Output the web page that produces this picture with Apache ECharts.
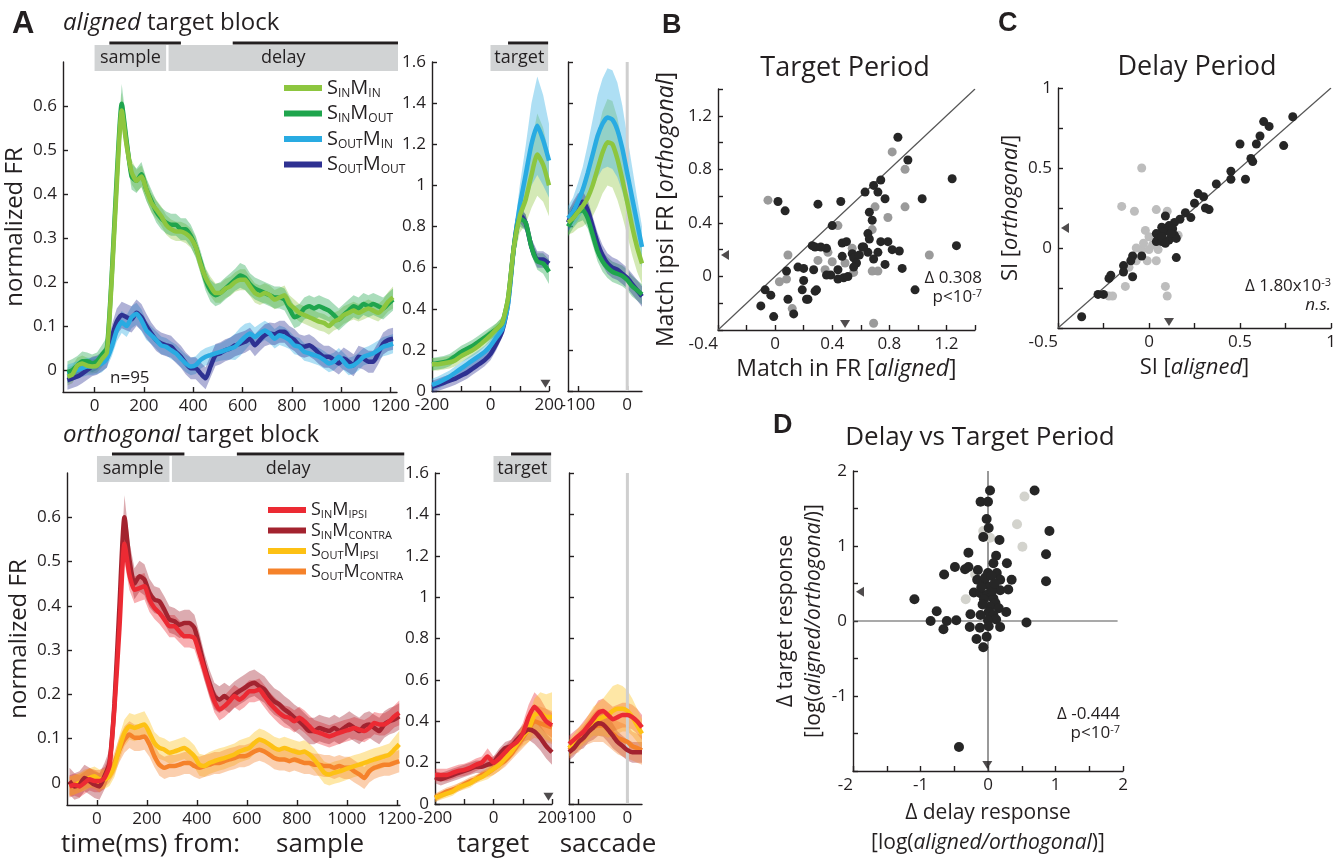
<!DOCTYPE html>
<html>
<head>
<meta charset="utf-8">
<title>Aligned vs orthogonal target blocks</title>
<script src="https://cdn.jsdelivr.net/npm/echarts@6.0.0/dist/echarts.min.js"></script>
<style>
  html, body { margin: 0; background: #fff; }
  #chart { width: 1344px; height: 859px; }
</style>
</head>
<body>
<div id="chart"></div>
<script>
const FONT = '"Open Sans", "Noto Sans", sans-serif';
const BOLD_FONT = '"Liberation Sans", Arial, sans-serif';
const INK = "#231f20";

// ---- time bases (ms) ----
const T_SAMPLE = [-110, -90, -70, -50, -30, -10, 10, 30, 50, 70, 90, 110, 130, 150, 170, 190, 210, 230, 250, 270, 290, 310, 330, 350, 370, 390, 410, 430, 450, 470, 490, 510, 530, 550, 570, 590, 610, 630, 650, 670, 690, 710, 730, 750, 770, 790, 810, 830, 850, 870, 890, 910, 930, 950, 970, 990, 1010, 1030, 1050, 1070, 1090, 1110, 1130, 1150, 1170, 1190, 1210];
const T_TARGET = [-200, -180, -160, -140, -120, -100, -80, -60, -40, -20, 0, 20, 40, 60, 80, 100, 120, 140, 160, 180, 200];
const T_SACC = [-120, -110, -100, -90, -80, -70, -60, -50, -40, -30, -20, -10, 0, 10, 20, 30];

// ---- task epochs drawn above the traces ----
const EPOCH_SAMPLE = [0, 290];
const EPOCH_DELAY = [300, 1230];
const WIN_SAMPLE = [60, 350];
const WIN_DELAY = [560, 1230];
const EPOCH_TARGET = [0, 197];
const WIN_TARGET = [60, 197];
const RT_MARK = [188, 0.035];

// ---- aligned block (normalized FR, mean and CI half-width) ----
const SIN_MIN_SAMPLE = [-0.015, -0.01, 0.01, 0.015, 0.01, 0.008, 0.01, 0.025, 0.04, 0.21, 0.42, 0.59, 0.51, 0.45, 0.43, 0.44, 0.41, 0.38, 0.365, 0.35, 0.33, 0.32, 0.315, 0.315, 0.31, 0.3, 0.28, 0.24, 0.21, 0.19, 0.175, 0.175, 0.185, 0.19, 0.2, 0.205, 0.205, 0.19, 0.175, 0.17, 0.175, 0.17, 0.16, 0.165, 0.17, 0.15, 0.14, 0.13, 0.125, 0.12, 0.115, 0.11, 0.107, 0.1, 0.11, 0.115, 0.125, 0.13, 0.135, 0.13, 0.135, 0.14, 0.135, 0.13, 0.14, 0.155, 0.165];
const SIN_MIN_SAMPLE_CI = [0.02, 0.02, 0.018, 0.018, 0.018, 0.016, 0.016, 0.018, 0.02, 0.03, 0.035, 0.04, 0.03, 0.028, 0.025, 0.025, 0.025, 0.022, 0.022, 0.022, 0.022, 0.022, 0.022, 0.022, 0.022, 0.022, 0.022, 0.022, 0.022, 0.022, 0.022, 0.022, 0.022, 0.022, 0.022, 0.024, 0.024, 0.022, 0.022, 0.022, 0.022, 0.022, 0.022, 0.022, 0.022, 0.02, 0.02, 0.02, 0.02, 0.02, 0.02, 0.02, 0.02, 0.02, 0.02, 0.02, 0.02, 0.02, 0.02, 0.02, 0.02, 0.02, 0.02, 0.02, 0.02, 0.022, 0.025];
const SIN_MOUT_SAMPLE = [-0.005, 0, 0.01, 0.02, 0.02, 0.015, 0.02, 0.035, 0.05, 0.22, 0.44, 0.605, 0.52, 0.44, 0.43, 0.445, 0.41, 0.385, 0.36, 0.345, 0.335, 0.33, 0.33, 0.32, 0.32, 0.305, 0.28, 0.245, 0.205, 0.18, 0.17, 0.175, 0.185, 0.195, 0.205, 0.215, 0.21, 0.195, 0.185, 0.18, 0.175, 0.17, 0.165, 0.165, 0.16, 0.14, 0.12, 0.125, 0.14, 0.145, 0.14, 0.145, 0.14, 0.135, 0.125, 0.115, 0.125, 0.135, 0.145, 0.14, 0.15, 0.145, 0.15, 0.145, 0.14, 0.15, 0.16];
const SIN_MOUT_SAMPLE_CI = [0.025, 0.025, 0.022, 0.022, 0.02, 0.02, 0.02, 0.022, 0.025, 0.03, 0.04, 0.045, 0.035, 0.03, 0.028, 0.028, 0.026, 0.025, 0.025, 0.025, 0.025, 0.025, 0.025, 0.025, 0.025, 0.025, 0.025, 0.025, 0.025, 0.025, 0.025, 0.025, 0.025, 0.025, 0.025, 0.028, 0.028, 0.025, 0.025, 0.025, 0.025, 0.025, 0.025, 0.025, 0.025, 0.025, 0.025, 0.025, 0.025, 0.025, 0.025, 0.025, 0.025, 0.025, 0.025, 0.025, 0.025, 0.025, 0.025, 0.025, 0.025, 0.025, 0.025, 0.025, 0.025, 0.025, 0.025];
const SOUT_MIN_SAMPLE = [-0.008, -0.004, 0, 0.004, 0.008, 0.008, 0.011, 0.015, 0.026, 0.053, 0.09, 0.109, 0.1, 0.12, 0.128, 0.113, 0.09, 0.079, 0.068, 0.056, 0.053, 0.045, 0.038, 0.026, 0.015, 0.008, 0.011, 0.023, 0.03, 0.034, 0.038, 0.041, 0.045, 0.049, 0.053, 0.064, 0.075, 0.083, 0.075, 0.083, 0.09, 0.083, 0.071, 0.079, 0.075, 0.068, 0.056, 0.053, 0.041, 0.038, 0.034, 0.03, 0.023, 0.015, 0.019, 0.03, 0.019, 0.008, 0.011, 0.019, 0.03, 0.034, 0.038, 0.045, 0.053, 0.056, 0.06];
const SOUT_MIN_SAMPLE_CI = [0.02, 0.02, 0.02, 0.02, 0.02, 0.02, 0.02, 0.02, 0.02, 0.022, 0.025, 0.025, 0.025, 0.025, 0.025, 0.025, 0.022, 0.02, 0.02, 0.02, 0.02, 0.02, 0.02, 0.02, 0.02, 0.02, 0.02, 0.02, 0.02, 0.02, 0.02, 0.02, 0.022, 0.025, 0.03, 0.032, 0.03, 0.025, 0.022, 0.022, 0.022, 0.022, 0.022, 0.022, 0.022, 0.02, 0.02, 0.02, 0.02, 0.02, 0.02, 0.02, 0.02, 0.02, 0.02, 0.02, 0.02, 0.02, 0.02, 0.02, 0.02, 0.02, 0.022, 0.022, 0.022, 0.022, 0.022];
const SOUT_MOUT_SAMPLE = [-0.023, -0.019, -0.015, -0.008, 0, 0.008, 0.011, 0.019, 0.03, 0.075, 0.11, 0.125, 0.12, 0.115, 0.13, 0.12, 0.1, 0.083, 0.068, 0.06, 0.056, 0.053, 0.041, 0.03, 0.015, 0.004, 0.004, -0.008, -0.019, 0.008, 0.034, 0.038, 0.045, 0.049, 0.056, 0.06, 0.064, 0.071, 0.056, 0.068, 0.079, 0.083, 0.081, 0.087, 0.087, 0.075, 0.068, 0.056, 0.053, 0.056, 0.049, 0.038, 0.03, 0.03, 0.023, 0.015, 0.026, 0.019, 0.011, 0.03, 0.026, 0.019, 0.019, 0.038, 0.06, 0.068, 0.071];
const SOUT_MOUT_SAMPLE_CI = [0.022, 0.022, 0.022, 0.022, 0.022, 0.022, 0.022, 0.022, 0.025, 0.028, 0.03, 0.03, 0.03, 0.03, 0.03, 0.03, 0.028, 0.025, 0.025, 0.025, 0.025, 0.025, 0.025, 0.025, 0.025, 0.025, 0.025, 0.025, 0.025, 0.025, 0.025, 0.025, 0.025, 0.025, 0.025, 0.025, 0.025, 0.025, 0.025, 0.025, 0.025, 0.025, 0.025, 0.025, 0.025, 0.025, 0.025, 0.025, 0.025, 0.025, 0.025, 0.025, 0.025, 0.025, 0.025, 0.025, 0.025, 0.025, 0.025, 0.025, 0.025, 0.025, 0.025, 0.025, 0.025, 0.025, 0.025];

const SIN_MIN_TARGET = [0.13, 0.13, 0.135, 0.14, 0.15, 0.17, 0.185, 0.2, 0.22, 0.245, 0.27, 0.3, 0.33, 0.45, 0.7, 0.85, 0.93, 1.05, 1.15, 1.1, 1.0];
const SIN_MIN_TARGET_CI = [0.03, 0.03, 0.03, 0.03, 0.03, 0.03, 0.03, 0.03, 0.03, 0.03, 0.03, 0.03, 0.03, 0.04, 0.06, 0.08, 0.12, 0.16, 0.2, 0.18, 0.15];
const SIN_MOUT_TARGET = [0.13, 0.135, 0.14, 0.15, 0.17, 0.19, 0.205, 0.22, 0.24, 0.26, 0.28, 0.3, 0.33, 0.45, 0.7, 0.84, 0.82, 0.7, 0.63, 0.62, 0.58];
const SIN_MOUT_TARGET_CI = [0.03, 0.03, 0.03, 0.03, 0.03, 0.03, 0.03, 0.03, 0.03, 0.03, 0.03, 0.03, 0.03, 0.03, 0.04, 0.04, 0.04, 0.04, 0.04, 0.05, 0.06];
const SOUT_MIN_TARGET = [0.03, 0.04, 0.055, 0.07, 0.09, 0.11, 0.13, 0.15, 0.17, 0.19, 0.22, 0.26, 0.3, 0.42, 0.7, 0.9, 1.05, 1.2, 1.29, 1.22, 1.12];
const SOUT_MIN_TARGET_CI = [0.03, 0.03, 0.03, 0.03, 0.03, 0.03, 0.03, 0.03, 0.03, 0.03, 0.03, 0.03, 0.03, 0.04, 0.06, 0.1, 0.14, 0.2, 0.24, 0.22, 0.18];
const SOUT_MOUT_TARGET = [0.02, 0.03, 0.04, 0.05, 0.06, 0.075, 0.09, 0.11, 0.13, 0.15, 0.18, 0.23, 0.29, 0.43, 0.7, 0.86, 0.82, 0.7, 0.64, 0.64, 0.62];
const SOUT_MOUT_TARGET_CI = [0.03, 0.03, 0.03, 0.03, 0.03, 0.03, 0.03, 0.03, 0.03, 0.03, 0.03, 0.03, 0.03, 0.03, 0.04, 0.04, 0.04, 0.04, 0.04, 0.04, 0.04];

const SIN_MIN_SACC = [0.82, 0.84, 0.87, 0.9, 0.94, 1.0, 1.08, 1.16, 1.21, 1.2, 1.13, 1.03, 0.92, 0.8, 0.7, 0.62];
const SIN_MIN_SACC_CI = [0.06, 0.07, 0.08, 0.1, 0.12, 0.15, 0.18, 0.2, 0.21, 0.21, 0.2, 0.18, 0.16, 0.14, 0.12, 0.1];
const SIN_MOUT_SACC = [0.8, 0.84, 0.87, 0.88, 0.84, 0.76, 0.68, 0.63, 0.6, 0.58, 0.57, 0.56, 0.54, 0.51, 0.49, 0.47];
const SIN_MOUT_SACC_CI = [0.05, 0.05, 0.05, 0.05, 0.05, 0.05, 0.05, 0.05, 0.05, 0.05, 0.05, 0.05, 0.05, 0.05, 0.05, 0.05];
const SOUT_MIN_SACC = [0.84, 0.87, 0.92, 0.98, 1.06, 1.15, 1.24, 1.3, 1.33, 1.32, 1.27, 1.18, 1.06, 0.94, 0.82, 0.7];
const SOUT_MIN_SACC_CI = [0.06, 0.07, 0.09, 0.11, 0.14, 0.17, 0.2, 0.22, 0.24, 0.24, 0.23, 0.21, 0.18, 0.15, 0.12, 0.1];
const SOUT_MOUT_SACC = [0.82, 0.87, 0.91, 0.92, 0.88, 0.8, 0.72, 0.66, 0.62, 0.6, 0.59, 0.57, 0.55, 0.52, 0.49, 0.46];
const SOUT_MOUT_SACC_CI = [0.05, 0.05, 0.05, 0.05, 0.05, 0.05, 0.05, 0.05, 0.05, 0.05, 0.05, 0.05, 0.05, 0.05, 0.05, 0.05];

// ---- orthogonal block ----
const SIN_MIPSI_SAMPLE = [-0.008, -0.004, -0.008, 0, 0.008, 0.004, 0.004, 0.011, 0.038, 0.17, 0.35, 0.54, 0.47, 0.436, 0.44, 0.444, 0.414, 0.395, 0.384, 0.369, 0.354, 0.354, 0.342, 0.331, 0.331, 0.327, 0.293, 0.256, 0.218, 0.184, 0.166, 0.173, 0.184, 0.196, 0.188, 0.196, 0.207, 0.207, 0.211, 0.196, 0.181, 0.169, 0.158, 0.15, 0.147, 0.139, 0.147, 0.139, 0.128, 0.117, 0.113, 0.109, 0.105, 0.109, 0.113, 0.117, 0.12, 0.124, 0.12, 0.117, 0.124, 0.135, 0.132, 0.132, 0.139, 0.15, 0.158];
const SIN_MIPSI_SAMPLE_CI = [0.025, 0.025, 0.025, 0.025, 0.025, 0.025, 0.025, 0.025, 0.025, 0.03, 0.035, 0.04, 0.035, 0.03, 0.03, 0.03, 0.028, 0.025, 0.025, 0.025, 0.025, 0.025, 0.025, 0.025, 0.025, 0.025, 0.025, 0.025, 0.025, 0.025, 0.025, 0.025, 0.025, 0.025, 0.025, 0.025, 0.025, 0.025, 0.025, 0.025, 0.025, 0.025, 0.025, 0.025, 0.025, 0.025, 0.025, 0.025, 0.025, 0.025, 0.025, 0.025, 0.025, 0.025, 0.025, 0.025, 0.025, 0.025, 0.025, 0.025, 0.025, 0.025, 0.025, 0.025, 0.025, 0.025, 0.028];
const SIN_MCONTRA_SAMPLE = [0.004, -0.008, -0.004, 0.011, 0.004, -0.004, -0.008, 0.015, 0.045, 0.18, 0.4, 0.6, 0.504, 0.45, 0.467, 0.459, 0.429, 0.414, 0.41, 0.391, 0.369, 0.365, 0.357, 0.361, 0.361, 0.35, 0.309, 0.263, 0.226, 0.196, 0.188, 0.196, 0.188, 0.199, 0.207, 0.214, 0.222, 0.226, 0.218, 0.211, 0.196, 0.184, 0.177, 0.166, 0.158, 0.147, 0.139, 0.128, 0.117, 0.117, 0.124, 0.12, 0.117, 0.124, 0.117, 0.124, 0.132, 0.124, 0.117, 0.128, 0.132, 0.124, 0.117, 0.132, 0.139, 0.143, 0.15];
const SIN_MCONTRA_SAMPLE_CI = [0.03, 0.03, 0.03, 0.03, 0.03, 0.03, 0.03, 0.03, 0.03, 0.035, 0.04, 0.05, 0.04, 0.035, 0.035, 0.035, 0.032, 0.03, 0.03, 0.03, 0.03, 0.03, 0.03, 0.03, 0.03, 0.03, 0.03, 0.03, 0.03, 0.03, 0.03, 0.03, 0.03, 0.03, 0.03, 0.03, 0.03, 0.03, 0.03, 0.03, 0.03, 0.03, 0.03, 0.03, 0.03, 0.03, 0.03, 0.03, 0.03, 0.03, 0.03, 0.03, 0.03, 0.03, 0.03, 0.03, 0.03, 0.03, 0.03, 0.03, 0.03, 0.03, 0.03, 0.03, 0.03, 0.03, 0.03];
const SOUT_MIPSI_SAMPLE = [-0.008, -0.004, 0, 0.004, 0.011, 0.015, 0.008, 0.008, 0.015, 0.038, 0.079, 0.113, 0.128, 0.124, 0.128, 0.132, 0.113, 0.09, 0.079, 0.075, 0.068, 0.071, 0.075, 0.079, 0.071, 0.06, 0.041, 0.038, 0.045, 0.049, 0.053, 0.056, 0.06, 0.064, 0.071, 0.075, 0.079, 0.09, 0.098, 0.094, 0.087, 0.079, 0.075, 0.079, 0.075, 0.071, 0.068, 0.071, 0.064, 0.053, 0.038, 0.023, 0.019, 0.023, 0.026, 0.03, 0.034, 0.038, 0.041, 0.045, 0.049, 0.053, 0.056, 0.06, 0.064, 0.075, 0.087];
const SOUT_MIPSI_SAMPLE_CI = [0.022, 0.022, 0.022, 0.022, 0.022, 0.022, 0.022, 0.022, 0.022, 0.025, 0.028, 0.03, 0.03, 0.03, 0.03, 0.03, 0.028, 0.025, 0.025, 0.025, 0.025, 0.025, 0.025, 0.025, 0.025, 0.025, 0.025, 0.025, 0.025, 0.025, 0.025, 0.025, 0.025, 0.025, 0.025, 0.025, 0.025, 0.025, 0.025, 0.025, 0.025, 0.025, 0.025, 0.025, 0.025, 0.025, 0.025, 0.025, 0.025, 0.025, 0.025, 0.025, 0.025, 0.025, 0.025, 0.025, 0.025, 0.025, 0.025, 0.025, 0.025, 0.025, 0.025, 0.025, 0.025, 0.028, 0.03];
const SOUT_MCONTRA_SAMPLE = [-0.008, -0.004, 0, 0.008, 0.011, 0.008, 0, 0.011, 0.023, 0.045, 0.075, 0.098, 0.109, 0.102, 0.102, 0.105, 0.087, 0.06, 0.041, 0.034, 0.038, 0.038, 0.041, 0.045, 0.045, 0.038, 0.034, 0.038, 0.041, 0.045, 0.045, 0.049, 0.053, 0.056, 0.06, 0.06, 0.064, 0.071, 0.075, 0.071, 0.064, 0.056, 0.053, 0.053, 0.049, 0.053, 0.049, 0.045, 0.045, 0.041, 0.041, 0.038, 0.038, 0.034, 0.038, 0.034, 0.034, 0.026, 0.019, 0.011, 0.026, 0.034, 0.038, 0.041, 0.041, 0.045, 0.049];
const SOUT_MCONTRA_SAMPLE_CI = [0.022, 0.022, 0.022, 0.022, 0.022, 0.022, 0.022, 0.022, 0.022, 0.025, 0.028, 0.03, 0.03, 0.03, 0.03, 0.03, 0.028, 0.025, 0.025, 0.025, 0.025, 0.025, 0.025, 0.025, 0.025, 0.025, 0.025, 0.025, 0.025, 0.025, 0.025, 0.025, 0.025, 0.025, 0.025, 0.025, 0.025, 0.025, 0.025, 0.025, 0.025, 0.025, 0.025, 0.025, 0.025, 0.025, 0.025, 0.025, 0.025, 0.025, 0.025, 0.025, 0.025, 0.025, 0.025, 0.025, 0.025, 0.025, 0.025, 0.025, 0.025, 0.025, 0.025, 0.025, 0.025, 0.025, 0.025];

const SIN_MIPSI_TARGET = [0.14, 0.14, 0.14, 0.15, 0.16, 0.165, 0.175, 0.19, 0.2, 0.23, 0.2, 0.22, 0.25, 0.28, 0.3, 0.34, 0.42, 0.47, 0.44, 0.4, 0.38];
const SIN_MIPSI_TARGET_CI = [0.03, 0.03, 0.03, 0.03, 0.03, 0.03, 0.03, 0.03, 0.03, 0.04, 0.03, 0.03, 0.03, 0.03, 0.04, 0.05, 0.06, 0.07, 0.07, 0.06, 0.06];
const SIN_MCONTRA_TARGET = [0.13, 0.12, 0.13, 0.14, 0.15, 0.16, 0.17, 0.18, 0.18, 0.19, 0.2, 0.24, 0.27, 0.28, 0.31, 0.34, 0.36, 0.35, 0.32, 0.28, 0.25];
const SIN_MCONTRA_TARGET_CI = [0.03, 0.03, 0.03, 0.03, 0.03, 0.03, 0.03, 0.03, 0.03, 0.03, 0.03, 0.03, 0.03, 0.03, 0.04, 0.04, 0.05, 0.06, 0.06, 0.06, 0.06];
const SOUT_MIPSI_TARGET = [0.03, 0.04, 0.05, 0.06, 0.08, 0.09, 0.1, 0.12, 0.13, 0.15, 0.17, 0.19, 0.22, 0.25, 0.29, 0.33, 0.36, 0.43, 0.44, 0.42, 0.42];
const SOUT_MIPSI_TARGET_CI = [0.02, 0.02, 0.02, 0.02, 0.02, 0.02, 0.02, 0.02, 0.02, 0.03, 0.03, 0.03, 0.03, 0.03, 0.04, 0.05, 0.06, 0.08, 0.1, 0.11, 0.12];
const SOUT_MCONTRA_TARGET = [0.03, 0.045, 0.06, 0.07, 0.08, 0.095, 0.11, 0.12, 0.14, 0.15, 0.17, 0.19, 0.21, 0.24, 0.28, 0.32, 0.36, 0.4, 0.39, 0.38, 0.37];
const SOUT_MCONTRA_TARGET_CI = [0.02, 0.02, 0.02, 0.02, 0.02, 0.02, 0.02, 0.02, 0.02, 0.02, 0.03, 0.03, 0.03, 0.03, 0.04, 0.05, 0.06, 0.08, 0.08, 0.08, 0.08];

const SIN_MIPSI_SACC = [0.29, 0.31, 0.33, 0.35, 0.38, 0.41, 0.44, 0.45, 0.43, 0.41, 0.42, 0.43, 0.43, 0.42, 0.4, 0.37];
const SIN_MIPSI_SACC_CI = [0.04, 0.04, 0.04, 0.05, 0.05, 0.05, 0.06, 0.06, 0.06, 0.06, 0.06, 0.06, 0.06, 0.06, 0.06, 0.06];
const SIN_MCONTRA_SACC = [0.25, 0.27, 0.3, 0.32, 0.35, 0.37, 0.39, 0.385, 0.36, 0.33, 0.3, 0.28, 0.26, 0.25, 0.25, 0.25];
const SIN_MCONTRA_SACC_CI = [0.04, 0.04, 0.04, 0.05, 0.05, 0.06, 0.06, 0.06, 0.06, 0.06, 0.05, 0.05, 0.05, 0.05, 0.05, 0.05];
const SOUT_MIPSI_SACC = [0.27, 0.3, 0.32, 0.34, 0.37, 0.4, 0.41, 0.42, 0.43, 0.45, 0.46, 0.46, 0.45, 0.42, 0.38, 0.34];
const SOUT_MIPSI_SACC_CI = [0.04, 0.04, 0.05, 0.05, 0.06, 0.07, 0.08, 0.09, 0.11, 0.12, 0.12, 0.11, 0.1, 0.09, 0.08, 0.07];
const SOUT_MCONTRA_SACC = [0.26, 0.28, 0.3, 0.33, 0.35, 0.37, 0.38, 0.38, 0.36, 0.34, 0.32, 0.31, 0.3, 0.28, 0.27, 0.26];
const SOUT_MCONTRA_SACC_CI = [0.04, 0.04, 0.05, 0.05, 0.06, 0.07, 0.08, 0.08, 0.08, 0.08, 0.08, 0.08, 0.08, 0.07, 0.07, 0.07];

// ---- B: target period, match-in FR aligned vs match-ipsi FR orthogonal ----
const B_BLACK = [[0.86, 1.04], [0.93, 0.87], [1.24, 0.73], [1.03, 0.58], [1.27, 0.23], [0.74, 0.72], [0.69, 0.68], [0.63, 0.63], [0.72, 0.63], [0.77, 0.58], [0.66, 0.48], [0.68, 0.42], [0.65, 0.32], [0.66, 0.28], [0.74, 0.26], [0.79, 0.26], [0.61, 0.22], [0.65, 0.18], [0.72, 0.18], [0.82, 0.2], [0.87, 0.19], [0.69, 0.13], [0.77, 0.09], [0.89, 0.06], [0.98, -0.1], [0.02, 0.56], [0.07, 0.49], [0.3, 0.54], [0.46, 0.56], [0.4, 0.38], [0.26, 0.23], [0.28, 0.22], [0.36, 0.21], [0.47, 0.25], [0.5, 0.26], [0.47, 0.15], [0.54, 0.17], [0.55, 0.14], [0.57, 0.1], [0.55, 0.07], [0.44, 0.05], [0.39, 0.01], [0.44, -0.02], [0.48, -0.01], [0.51, 0], [0.27, 0.05], [0.16, 0.07], [0.2, 0.06], [0.08, 0.04], [0.2, -0.03], [0.19, -0.1], [0.29, -0.1], [0.28, -0.11], [0.23, -0.17], [0.22, -0.17], [0.09, -0.17], [-0.07, -0.1], [-0.03, -0.14], [-0.1, -0.22], [-0.01, -0.3], [0.13, -0.28], [0.36, 0.01], [0.32, 0.22], [0.59, 0.16], [0.62, 0.22]];
const B_GRAY = [[0.82, 0.93], [0.91, 0.8], [0.91, 0.52], [1.08, 0.16], [0.7, 0.52], [0.79, 0.44], [0.68, 0.35], [-0.05, 0.57], [0.09, 0.16], [0.44, 0.38], [0.3, 0.12], [0.37, 0.18], [0.4, 0.11], [0.35, 0.05], [0.54, 0.21], [0.49, 0.1], [0.55, 0.03], [0.68, 0.04], [0.72, 0.04], [0.03, -0.04], [0.08, -0.02], [0.12, -0.24], [0.69, -0.35]];
const B_MEDIAN_X = 0.49;
const B_MEDIAN_Y = 0.16;

// ---- C: delay period selectivity index ----
const C_BLACK = [[0.79, 0.82], [0.63, 0.79], [0.66, 0.76], [0.61, 0.7], [0.59, 0.65], [0.5, 0.65], [0.74, 0.64], [0.56, 0.56], [0.57, 0.54], [0.45, 0.48], [0.45, 0.43], [0.53, 0.43], [0.37, 0.4], [0.27, 0.34], [0.3, 0.32], [0.25, 0.28], [0.31, 0.25], [0.33, 0.24], [0.2, 0.22], [0.23, 0.19], [0.17, 0.18], [0.14, 0.16], [0.09, 0.2], [0.11, 0.14], [0.07, 0.13], [0.1, 0.11], [0.13, 0.12], [0.08, 0.1], [0.04, 0.09], [0.14, 0.08], [0.05, 0.06], [0.04, 0.04], [0.07, 0.04], [0.11, 0.05], [0.15, 0.06], [0.15, -0.06], [-0.04, -0.05], [-0.09, -0.05], [-0.1, -0.08], [-0.14, -0.11], [-0.14, -0.15], [-0.09, -0.18], [-0.21, -0.17], [-0.22, -0.19], [-0.25, -0.29], [-0.28, -0.29], [-0.37, -0.43], [0.07, 0.07], [0.12, 0.09], [0.09, 0.03]];
const C_GRAY = [[-0.04, 0.5], [-0.15, 0.26], [-0.08, 0.23], [0.04, 0.24], [0.1, 0.23], [-0.02, 0.11], [0, 0.07], [0.16, 0.08], [-0.07, 0], [-0.04, -0.01], [0, -0.01], [0.05, -0.01], [-0.07, -0.08], [-0.01, -0.08], [0.04, -0.08], [-0.11, -0.12], [-0.13, -0.24], [0.09, -0.24], [0.1, -0.3], [-0.2, -0.3], [-0.22, -0.3], [-0.03, 0.03], [0.02, 0.02]];
const C_MEDIAN_X = 0.11;
const C_MEDIAN_Y = 0.125;

// ---- D: delta delay vs delta target response ----
const D_BLACK = [[0.03, 1.74], [0.69, 1.74], [-0.11, 1.59], [0, 1.59], [-0.02, 1.36], [0.01, 1.24], [-0.07, 1.12], [0.91, 1.2], [0.17, 1.08], [-0.29, 0.91], [0.12, 0.87], [0.86, 0.89], [0.28, 0.77], [-0.49, 0.72], [-0.34, 0.69], [-0.29, 0.72], [0.08, 0.77], [-0.65, 0.62], [-0.15, 0.68], [0, 0.64], [0.13, 0.64], [0.18, 0.55], [0.35, 0.55], [0.86, 0.53], [-0.16, 0.55], [-0.06, 0.52], [0.03, 0.46], [0.18, 0.41], [0.3, 0.42], [-0.21, 0.38], [-0.11, 0.37], [-0.01, 0.35], [0.08, 0.3], [-0.06, 0.29], [-1.09, 0.29], [0.11, 0.24], [0.03, 0.19], [0.16, 0.17], [0.01, 0.12], [0.27, 0.12], [-0.76, 0.13], [-0.26, 0.09], [-0.11, 0.08], [0.08, 0.08], [-0.85, 0], [-0.61, 0], [-0.47, 0.01], [0.12, 0.02], [0, 0.01], [0.57, -0.02], [-0.66, -0.11], [-0.27, -0.08], [-0.12, -0.09], [0.01, -0.07], [0.18, -0.08], [-0.17, -0.24], [-0.02, -0.21], [-0.07, -0.35], [-0.43, -1.68], [-0.1, 0.45], [-0.04, 0.58], [0.06, 0.4], [-0.08, 0.22], [0.05, 0.6], [0.1, 0.5]];
const D_GRAY = [[0.54, 1.66], [0.43, 1.29], [-0.07, 1.2], [0.03, 1.11], [0.51, 0.99], [-0.33, 0.29], [-0.19, 0.62]];
const D_MEDIAN_X = -0.01;
const D_MEDIAN_Y = 0.39;

// ---- tick values ----
const TICKS_SAMPLE_X = [0, 200, 400, 600, 800, 1000, 1200];
const TICKS_FR_Y = [0, 0.1, 0.2, 0.3, 0.4, 0.5, 0.6];
const TICKS_TARGET_X = [-200, -100, 0, 100, 200];
const LABELS_TARGET_X = [-200, 0, 200];
const TICKS_SACC_X = [-100, 0];
const TICKS_FR_Y2 = [0, 0.2, 0.4, 0.6, 0.8, 1, 1.2, 1.4, 1.6];
const TICKS_B = [-0.4, -0.2, 0, 0.2, 0.4, 0.6, 0.8, 1, 1.2, 1.4];
const LABELS_B_X = [-0.4, 0, 0.4, 0.8, 1.2];
const LABELS_B_Y = [0, 0.4, 0.8, 1.2];
const TICKS_C = [-0.5, -0.25, 0, 0.25, 0.5, 0.75, 1];
const LABELS_C_X = [-0.5, 0, 0.5, 1];
const LABELS_C_Y = [0, 0.5, 1];
const TICKS_D = [-2, -1.5, -1, -0.5, 0, 0.5, 1, 1.5, 2];
const LABELS_D_X = [-2, -1, 0, 1, 2];
const LABELS_D_Y = [-1, 0, 1, 2];

const NAMES_ALIGNED = ["S_IN M_IN", "S_IN M_OUT", "S_OUT M_IN", "S_OUT M_OUT"];
const NAMES_ORTHO = ["S_IN M_IPSI", "S_IN M_CONTRA", "S_OUT M_IPSI", "S_OUT M_CONTRA"];

const COLORS = {
  "S_IN M_IN": "#8dc63f",
  "S_IN M_OUT": "#1fa54d",
  "S_OUT M_IN": "#29abe2",
  "S_OUT M_OUT": "#2e3192",
  "S_IN M_IPSI": "#ec2a33",
  "S_IN M_CONTRA": "#a3232f",
  "S_OUT M_IPSI": "#fdc114",
  "S_OUT M_CONTRA": "#f5822a",
};

const GRIDS = [
  { left: 63, top: 62, width: 334, height: 330 },
  { left: 432, top: 62, width: 117, height: 329 },
  { left: 568, top: 62, width: 74, height: 329 },
  { left: 67, top: 473, width: 333, height: 332 },
  { left: 435, top: 473, width: 117, height: 331 },
  { left: 569, top: 473, width: 73, height: 331 },
  { left: 718, top: 89, width: 257, height: 241 },
  { left: 1058, top: 88, width: 273, height: 240 },
  { left: 853, top: 471, width: 270, height: 301 },
];

function pairs(times, vals) {
  return times.map((t, i) => [t, vals[i]]);
}

function valueAxis(gridIndex, min, max, ticks, labels, more) {
  const ax = {
    type: "value",
    gridIndex: gridIndex,
    min: min,
    max: max,
    axisLine: { show: true, onZero: false, lineStyle: { color: INK, width: 1.4 } },
    axisTick: { show: true, inside: true, length: 5, customValues: ticks, lineStyle: { color: INK, width: 1.4 } },
    axisLabel: {
      show: !!labels,
      customValues: labels || [],
      formatter: (v) => String(v),
      color: INK,
      fontFamily: FONT,
      fontSize: 17,
      margin: 6,
    },
    splitLine: { show: false },
  };
  if (more && more.label) Object.assign(ax.axisLabel, more.label);
  if (more && more.name) {
    const size = more.size || 21;
    const lh = more.lineHeight || size + 4;
    Object.assign(ax, {
      name: more.name,
      nameLocation: "middle",
      nameGap: more.gap,
      nameTextStyle: {
        color: INK,
        fontFamily: FONT,
        fontSize: size,
        lineHeight: lh,
        rich: {
          i: { fontStyle: "italic", fontFamily: FONT, fontSize: size, lineHeight: lh, color: INK },
        },
      },
    });
  }
  return ax;
}

function band(gi, times, vals, ci, color) {
  return {
    type: "custom",
    xAxisIndex: gi,
    yAxisIndex: gi,
    silent: true,
    z: 1,
    data: pairs(times, vals),
    renderItem: (params, api) => {
      if (params.dataIndex !== 0) {
        return null;
      }
      const upper = times.map((t, i) => api.coord([t, vals[i] + ci[i]]));
      const lower = times.map((t, i) => api.coord([t, vals[i] - ci[i]])).reverse();
      return {
        type: "polygon",
        shape: { points: upper.concat(lower) },
        style: { fill: color, opacity: 0.38 },
      };
    },
  };
}

function trace(gi, name, times, vals) {
  return {
    type: "line",
    name: name,
    xAxisIndex: gi,
    yAxisIndex: gi,
    data: pairs(times, vals),
    showSymbol: false,
    smooth: 0.2,
    color: COLORS[name],
    lineStyle: { width: 4.5, color: COLORS[name] },
    z: 3,
  };
}

function header(gi, epochs, labels, windows) {
  return {
    type: "custom",
    xAxisIndex: gi,
    yAxisIndex: gi,
    silent: true,
    clip: false,
    z: 10,
    data: epochs,
    renderItem: (params, api) => {
      const top = params.coordSys.y;
      const x0 = api.coord([api.value(0), 0])[0];
      const x1 = api.coord([api.value(1), 0])[0];
      const children = [
        { type: "rect", shape: { x: x0, y: top - 17, width: x1 - x0, height: 26 }, style: { fill: "#d1d3d4" } },
        {
          type: "text",
          style: {
            text: labels[params.dataIndex],
            x: (x0 + x1) / 2,
            y: top - 4,
            align: "center",
            verticalAlign: "middle",
            fontFamily: FONT,
            fontSize: 18,
            fill: INK,
          },
        },
      ];
      const w = windows[params.dataIndex];
      if (w) {
        const w0 = api.coord([w[0], 0])[0];
        const w1 = api.coord([w[1], 0])[0];
        children.push({
          type: "line",
          shape: { x1: w0, y1: top - 19, x2: w1, y2: top - 19 },
          style: { stroke: INK, lineWidth: 3 },
        });
      }
      return { type: "group", children: children };
    },
  };
}

function dots(gi, data, color, size) {
  return {
    type: "scatter",
    xAxisIndex: gi,
    yAxisIndex: gi,
    data: data,
    symbolSize: size,
    itemStyle: { color: color, opacity: 1 },
    silent: true,
    z: 3,
  };
}

function marker(gi, pt, rotate, offset) {
  return {
    type: "scatter",
    xAxisIndex: gi,
    yAxisIndex: gi,
    data: [pt],
    symbol: "triangle",
    symbolSize: [10, 8],
    symbolRotate: rotate,
    symbolOffset: offset,
    itemStyle: { color: INK },
    silent: true,
    z: 6,
  };
}

function guide(gi, data, color, width, z) {
  return {
    type: "line",
    xAxisIndex: gi,
    yAxisIndex: gi,
    data: data,
    showSymbol: false,
    silent: true,
    lineStyle: { color: color, width: width },
    z: z,
  };
}

function text(str, x, y, size, align, more) {
  return {
    type: "text",
    x: x,
    y: y,
    silent: true,
    style: Object.assign(
      {
        text: str,
        fontFamily: FONT,
        fontSize: size,
        fill: INK,
        align: align || "left",
        verticalAlign: "middle",
      },
      more || {},
    ),
  };
}

const ITALIC = { i: { fontStyle: "italic", fontFamily: FONT, fontSize: 24, fill: INK } };
const SUP = {
  n: { fontFamily: FONT, fontSize: 17, lineHeight: 19, fill: INK },
  sup: { fontFamily: FONT, fontSize: 11, lineHeight: 10, verticalAlign: "top", fill: INK },
  ni: { fontFamily: FONT, fontSize: 17, lineHeight: 19, fontStyle: "italic", fill: INK },
};

// ---- series ----
const series = [];

const aligned = [
  ["S_IN M_IN", SIN_MIN_SAMPLE, SIN_MIN_SAMPLE_CI, SIN_MIN_TARGET, SIN_MIN_TARGET_CI, SIN_MIN_SACC, SIN_MIN_SACC_CI],
  ["S_IN M_OUT", SIN_MOUT_SAMPLE, SIN_MOUT_SAMPLE_CI, SIN_MOUT_TARGET, SIN_MOUT_TARGET_CI, SIN_MOUT_SACC, SIN_MOUT_SACC_CI],
  ["S_OUT M_IN", SOUT_MIN_SAMPLE, SOUT_MIN_SAMPLE_CI, SOUT_MIN_TARGET, SOUT_MIN_TARGET_CI, SOUT_MIN_SACC, SOUT_MIN_SACC_CI],
  ["S_OUT M_OUT", SOUT_MOUT_SAMPLE, SOUT_MOUT_SAMPLE_CI, SOUT_MOUT_TARGET, SOUT_MOUT_TARGET_CI, SOUT_MOUT_SACC, SOUT_MOUT_SACC_CI],
];
const ortho = [
  ["S_IN M_IPSI", SIN_MIPSI_SAMPLE, SIN_MIPSI_SAMPLE_CI, SIN_MIPSI_TARGET, SIN_MIPSI_TARGET_CI, SIN_MIPSI_SACC, SIN_MIPSI_SACC_CI],
  ["S_IN M_CONTRA", SIN_MCONTRA_SAMPLE, SIN_MCONTRA_SAMPLE_CI, SIN_MCONTRA_TARGET, SIN_MCONTRA_TARGET_CI, SIN_MCONTRA_SACC, SIN_MCONTRA_SACC_CI],
  ["S_OUT M_IPSI", SOUT_MIPSI_SAMPLE, SOUT_MIPSI_SAMPLE_CI, SOUT_MIPSI_TARGET, SOUT_MIPSI_TARGET_CI, SOUT_MIPSI_SACC, SOUT_MIPSI_SACC_CI],
  ["S_OUT M_CONTRA", SOUT_MCONTRA_SAMPLE, SOUT_MCONTRA_SAMPLE_CI, SOUT_MCONTRA_TARGET, SOUT_MCONTRA_TARGET_CI, SOUT_MCONTRA_SACC, SOUT_MCONTRA_SACC_CI],
];

function addBlock(rows, g0, drawOrder) {
  rows.forEach((r) => {
    const c = COLORS[r[0]];
    series.push(band(g0, T_SAMPLE, r[1], r[2], c));
    series.push(band(g0 + 1, T_TARGET, r[3], r[4], c));
    series.push(band(g0 + 2, T_SACC, r[5], r[6], c));
  });
  series.push(guide(g0 + 2, [[0, 0], [0, 1.6]], "#cfcfcf", 3, 2));
  drawOrder.forEach((k) => {
    const r = rows[k];
    series.push(trace(g0, r[0], T_SAMPLE, r[1]));
    series.push(trace(g0 + 1, r[0], T_TARGET, r[3]));
    series.push(trace(g0 + 2, r[0], T_SACC, r[5]));
  });
  series.push(header(g0, [EPOCH_SAMPLE, EPOCH_DELAY], ["sample", "delay"], [WIN_SAMPLE, WIN_DELAY]));
  series.push(header(g0 + 1, [EPOCH_TARGET], ["target"], [WIN_TARGET]));
  series.push(marker(g0 + 1, RT_MARK, 180, [0, 0]));
}

addBlock(aligned, 0, [3, 2, 1, 0]);
addBlock(ortho, 3, [3, 2, 1, 0]);

// B
series.push(guide(6, [[-0.4, -0.4], [1.4, 1.4]], "#555", 1.2, 2));
series.push(dots(6, B_GRAY, "#9a9a9a", 9));
series.push(dots(6, B_BLACK, "#262626", 9));
series.push(marker(6, [-0.4, B_MEDIAN_Y], 90, [7, 0]));
series.push(marker(6, [B_MEDIAN_X, -0.4], 180, [0, -6]));
// C
series.push(guide(7, [[-0.5, -0.5], [1, 1]], "#555", 1.2, 2));
series.push(dots(7, C_GRAY, "#bdbdbd", 9));
series.push(dots(7, C_BLACK, "#262626", 9));
series.push(marker(7, [-0.5, C_MEDIAN_Y], 90, [7, 0]));
series.push(marker(7, [C_MEDIAN_X, -0.5], 180, [0, -6]));
// D
series.push(guide(8, [[-2, 0], [1.92, 0]], "#555", 1.2, 2));
series.push(guide(8, [[0, 2], [0, -2]], "#555", 1.2, 2));
series.push(dots(8, D_GRAY, "#d3d3cd", 10));
series.push(dots(8, D_BLACK, "#262626", 10));
series.push(marker(8, [-2, D_MEDIAN_Y], 90, [7, 0]));
series.push(marker(8, [D_MEDIAN_X, -2], 180, [0, -6]));

// ---- axes ----
const xAxis = [
  valueAxis(0, -128, 1226, TICKS_SAMPLE_X, TICKS_SAMPLE_X),
  valueAxis(1, -200, 200, TICKS_TARGET_X, LABELS_TARGET_X),
  valueAxis(2, -120, 30, TICKS_SACC_X, TICKS_SACC_X),
  valueAxis(3, -120, 1213, TICKS_SAMPLE_X, TICKS_SAMPLE_X),
  valueAxis(4, -200, 200, TICKS_TARGET_X, LABELS_TARGET_X),
  valueAxis(5, -120, 30, TICKS_SACC_X, TICKS_SACC_X),
  valueAxis(6, -0.4, 1.4, TICKS_B, LABELS_B_X, {
    label: { alignMinLabel: "right" },
    name: "Match in FR [{i|aligned}]",
    gap: 26,
    size: 23,
  }),
  valueAxis(7, -0.5, 1, TICKS_C, LABELS_C_X, {
    label: { alignMinLabel: "right" },
    name: "SI [{i|aligned}]",
    gap: 27,
    size: 22,
  }),
  valueAxis(8, -2, 2, TICKS_D, LABELS_D_X, {
    label: { alignMinLabel: "right" },
    name: "\u0394 delay response\n[log({i|aligned/orthogonal})]",
    gap: 27,
    lineHeight: 30,
  }),
];
const yAxis = [
  valueAxis(0, -0.05, 0.7, TICKS_FR_Y, TICKS_FR_Y, { name: "normalized FR", gap: 27, size: 24 }),
  valueAxis(1, 0, 1.6, TICKS_FR_Y2, TICKS_FR_Y2),
  valueAxis(2, 0, 1.6, TICKS_FR_Y2, null),
  valueAxis(3, -0.05, 0.7, TICKS_FR_Y, TICKS_FR_Y, { name: "normalized FR", gap: 29, size: 24 }),
  valueAxis(4, 0, 1.6, TICKS_FR_Y2, TICKS_FR_Y2),
  valueAxis(5, 0, 1.6, TICKS_FR_Y2, null),
  valueAxis(6, -0.4, 1.4, TICKS_B, LABELS_B_Y, { name: "Match ipsi FR [{i|orthogonal}]", gap: 38, size: 23 }),
  valueAxis(7, -0.5, 1, TICKS_C, LABELS_C_Y, { name: "SI [{i|orthogonal}]", gap: 33, size: 22 }),
  valueAxis(8, -2, 2, TICKS_D, LABELS_D_Y, {
    name: "\u0394 target response\n[log({i|aligned/orthogonal})]",
    gap: 20,
    lineHeight: 28,
  }),
];

function legendBox(names, left, top, gap, size, sub) {
  return {
    data: names,
    left: left,
    top: top,
    orient: "vertical",
    icon: "rect",
    itemWidth: 38,
    itemHeight: 6,
    itemGap: gap,
    selectedMode: false,
    formatter: (name) => name.replace(/^S_(\w+) M_(\w+)$/, "{m|S}{s|$1}{m|M}{s|$2}"),
    textStyle: {
      color: INK,
      rich: {
        m: { fontFamily: FONT, fontSize: size, lineHeight: size + 3, color: INK },
        s: { fontFamily: FONT, fontSize: sub, lineHeight: sub - 1, verticalAlign: "bottom", color: INK },
      },
    },
  };
}

const graphic = [
  text("A", 12, 24, 31, "left", { fontFamily: BOLD_FONT, fontWeight: "bold" }),
  text("{i|aligned} target block", 63, 23, 24, "left", { rich: ITALIC }),
  text("{i|orthogonal} target block", 63, 435, 24, "left", { rich: ITALIC }),
  text("n=95", 110, 378, 17),
  text("time(ms) from:", 61, 845, 26),
  text("sample", 320, 845, 26, "center"),
  text("target", 493, 845, 26, "center"),
  text("saccade", 608, 845, 26, "center"),
  text("B", 662, 26, 27, "left", { fontFamily: BOLD_FONT, fontWeight: "bold" }),
  text("C", 998, 24, 27, "left", { fontFamily: BOLD_FONT, fontWeight: "bold" }),
  text("D", 773, 426, 27, "left", { fontFamily: BOLD_FONT, fontWeight: "bold" }),
  text("Target Period", 845, 68, 27, "center"),
  text("Delay Period", 1197, 67, 27, "center"),
  text("Delay vs Target Period", 980, 438, 26, "center"),
  text("{n|\u0394 0.308}\n{n|p<10}{sup|-7}", 982, 288, 17, "right", { rich: SUP }),
  text("{n|\u0394 1.80x10}{sup|-3}\n{ni|n.s.}", 1331, 296, 17, "right", { rich: SUP }),
  text("{n|\u0394 -0.444}\n{n|p<10}{sup|-7}", 1120, 724, 17, "right", { rich: SUP }),
];

const chart = echarts.init(document.getElementById("chart"), null, { renderer: "canvas" });
chart.setOption({
  animation: false,
  backgroundColor: "#ffffff",
  textStyle: { fontFamily: FONT },
  grid: GRIDS,
  xAxis: xAxis,
  yAxis: yAxis,
  legend: [legendBox(NAMES_ALIGNED, 279, 73, 4, 20, 12), legendBox(NAMES_ORTHO, 263, 496, 1, 18, 11)],
  graphic: graphic,
  series: series,
});
</script>
</body>
</html>
